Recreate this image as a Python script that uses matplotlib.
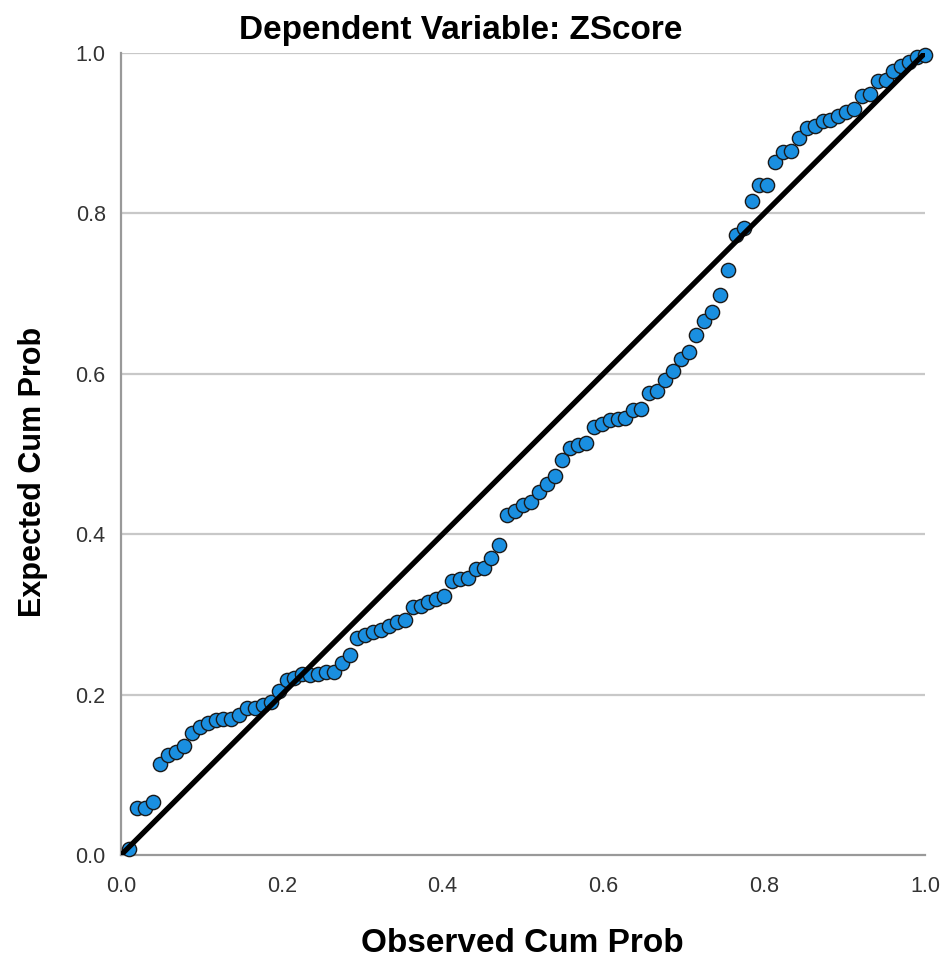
import numpy as np
import matplotlib
matplotlib.use("Agg")
import matplotlib.pyplot as plt

plt.rcParams['font.family'] = ['Liberation Sans', 'DejaVu Sans']

# === Data: expected cum prob for each sorted residual ===
expected_cum_prob = [
    0.007, 0.059, 0.059, 0.066, 0.114, 0.125, 0.128, 0.136, 0.152, 0.160,
    0.165, 0.168, 0.169, 0.170, 0.174, 0.183, 0.183, 0.187, 0.191, 0.205,
    0.218, 0.221, 0.226, 0.225, 0.226, 0.228, 0.228, 0.240, 0.249, 0.270,
    0.274, 0.278, 0.281, 0.286, 0.290, 0.293, 0.309, 0.310, 0.315, 0.319,
    0.323, 0.342, 0.344, 0.345, 0.357, 0.358, 0.370, 0.387, 0.424, 0.429,
    0.436, 0.440, 0.452, 0.462, 0.472, 0.492, 0.507, 0.511, 0.514, 0.534,
    0.537, 0.542, 0.544, 0.545, 0.555, 0.556, 0.576, 0.578, 0.592, 0.604,
    0.618, 0.627, 0.648, 0.666, 0.677, 0.698, 0.729, 0.773, 0.782, 0.816,
    0.836, 0.836, 0.864, 0.876, 0.878, 0.894, 0.906, 0.909, 0.915, 0.916,
    0.921, 0.927, 0.930, 0.947, 0.949, 0.965, 0.966, 0.977, 0.984, 0.989,
    0.995, 0.997,
]
n = len(expected_cum_prob)
observed_cum_prob = np.arange(1, n + 1) / n

tick_values = [0.0, 0.2, 0.4, 0.6, 0.8, 1.0]
tick_labels = ["0.0", "0.2", "0.4", "0.6", "0.8", "1.0"]

# === Plot ===
fig = plt.figure(figsize=(9.45, 9.61), dpi=100)
ax = fig.add_axes([121 / 945, 1 - 855 / 961, 804 / 945, 802 / 961])

for v in tick_values[1:]:
    ax.axhline(v, color='#c8c8c8', lw=1.6, zorder=1)

ax.scatter(observed_cum_prob, expected_cum_prob, s=105, color='#1a8fe0',
           edgecolors='#1a1a1a', linewidths=1.0, zorder=3, clip_on=False)
ax.plot([0, 1], [0, 1], color='black', lw=3.8, zorder=4,
        solid_capstyle='butt')

ax.set_xlim(0, 1)
ax.set_ylim(0, 1)
ax.set_xticks(tick_values)
ax.set_xticklabels(tick_labels)
ax.set_yticks(tick_values)
ax.set_yticklabels(tick_labels)
ax.tick_params(length=0, labelsize=15.5, labelcolor='#333333')
ax.tick_params(axis='y', pad=11)
ax.tick_params(axis='x', pad=15)

for side in ['top', 'right']:
    ax.spines[side].set_visible(False)
for side in ['left', 'bottom']:
    ax.spines[side].set_color('#999999')
    ax.spines[side].set_linewidth(1.6)

fig.text(461 / 945, 1 - 31 / 961, "Dependent Variable: ZScore",
         ha='center', va='center', fontsize=24, fontweight='bold')
fig.text(522 / 945, 1 - 943 / 961, "Observed Cum Prob",
         ha='center', va='center', fontsize=24, fontweight='bold')
fig.text(33 / 945, 1 - 472 / 961, "Expected Cum Prob", rotation=90,
         ha='center', va='center', fontsize=22, fontweight='bold')

fig.savefig("out.png", dpi=100)
